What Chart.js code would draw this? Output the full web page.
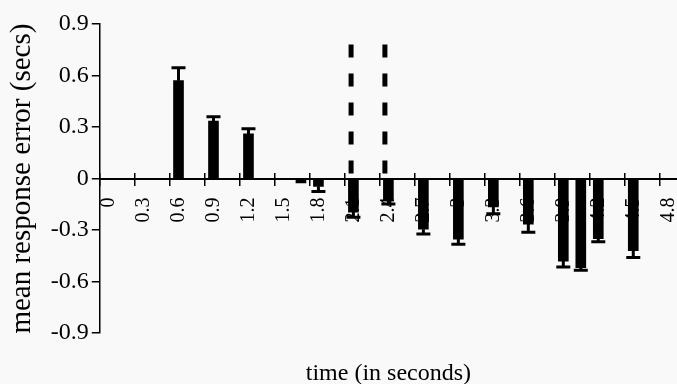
<!DOCTYPE html>
<html>
<head>
<meta charset="utf-8">
<script src="https://cdn.jsdelivr.net/npm/chart.js@4/dist/chart.umd.min.js"></script>
<style>
  html, body { margin: 0; padding: 0; background: #f9f9f9; overflow: hidden; }
  #graph-container { width: 677px; height: 384px; position: relative; }
</style>
</head>
<body>
<div id="graph-container"><canvas id="chart"></canvas></div>
<script>
// time bins (secs), every other one is labelled on the axis
const times = ['0', '0.15', '0.3', '0.45', '0.6', '0.75', '0.9', '1.05', '1.2', '1.35',
    '1.5', '1.65', '1.8', '1.95', '2.1', '2.25', '2.4', '2.55', '2.7', '2.85',
    '3', '3.15', '3.3', '3.45', '3.6', '3.75', '3.9', '4.05', '4.2', '4.35',
    '4.5', '4.65', '4.8'];
const binWidth = 0.15;

// mean response error per bin (secs), null = no bar
const meanError = [null, null, null, null, 0.57, null, 0.335, null, 0.26, null,
    null, -0.025, -0.045, null, -0.195, null, -0.13, null, -0.295, null,
    -0.352, null, -0.165, null, -0.265, null, -0.48, -0.518, -0.35, null,
    -0.42, null, null];

// size of the (one sided) error bar
const errorSize = [null, null, null, null, 0.075, null, 0.025, null, 0.03, null,
    null, null, 0.03, null, 0.03, null, 0.018, null, 0.028, null,
    0.03, null, 0.04, null, 0.048, null, 0.035, 0.015, 0.018, null,
    0.04, null, null];

// boundary markers (secs) and how high the dashed line goes
const boundaries = [2.08, 2.37];
const boundaryTop = 0.78;

const yTicks = [-0.9, -0.6, -0.3, 0, 0.3, 0.6, 0.9];

const serif = '"Liberation Serif", "Times New Roman", serif';

const errorBars = {
    id: 'errorBars',
    afterDatasetsDraw(chart) {
        const { ctx } = chart;
        const y = chart.scales.y;
        const meta = chart.getDatasetMeta(0);
        ctx.save();
        ctx.strokeStyle = '#000';
        ctx.lineWidth = 3;
        meta.data.forEach((bar, i) => {
            const v = meanError[i];
            const e = errorSize[i];
            if (v == null || !e) return;
            const end = y.getPixelForValue(v + Math.sign(v) * e);
            ctx.beginPath();
            ctx.moveTo(bar.x, bar.y);
            ctx.lineTo(bar.x, end);
            ctx.moveTo(bar.x - 7, end);
            ctx.lineTo(bar.x + 7, end);
            ctx.stroke();
        });
        ctx.restore();
    }
};

const boundaryLines = {
    id: 'boundaryLines',
    beforeDatasetsDraw(chart) {
        const { ctx, scales: { x, y } } = chart;
        ctx.save();
        ctx.strokeStyle = '#000';
        ctx.lineWidth = 5;
        ctx.setLineDash([13, 16]);
        boundaries.forEach(t => {
            const px = x.getPixelForValue(t / binWidth);
            ctx.beginPath();
            ctx.moveTo(px, y.getPixelForValue(boundaryTop));
            ctx.lineTo(px, y.getPixelForValue(0));
            ctx.stroke();
        });
        ctx.restore();
    }
};

// rotated labels ask for room on the right, the original runs to the edge
const noSidePadding = (scale) => {
    scale.paddingLeft = 0;
    scale.paddingRight = 0;
};

Chart.defaults.color = '#000';
Chart.defaults.font.family = serif;

new Chart(document.getElementById('chart'), {
    type: 'bar',
    data: {
        labels: times,
        datasets: [{
            data: meanError,
            backgroundColor: '#000',
            borderWidth: 0,
            barThickness: 10,
        }]
    },
    options: {
        responsive: true,
        maintainAspectRatio: false,
        animation: false,
        layout: { padding: { top: 24, left: 0, right: 0, bottom: 0 } },
        plugins: {
            legend: { display: false },
            tooltip: { enabled: false },
            title: {
                display: true,
                text: 'time (in seconds)',
                position: 'bottom',
                fullSize: false,
                color: '#000',
                font: { family: serif, size: 24, weight: 'normal' },
                padding: { top: 26, bottom: -4 },
            }
        },
        scales: {
            x: {
                type: 'category',
                position: { y: 0 },
                offset: true,
                afterFit: noSidePadding,
                grid: {
                    offset: true,
                    drawOnChartArea: false,
                    tickLength: 6,
                    lineWidth: 1.5,
                    color: (c) => (c.index % 2 === 0 ? '#000' : 'rgba(0,0,0,0)'),
                },
                border: { color: '#000', width: 2 },
                ticks: {
                    autoSkip: false,
                    minRotation: 90,
                    maxRotation: 90,
                    padding: 13,
                    font: { family: serif, size: 20 },
                    callback: (v, i) => (i % 2 === 0 ? times[i] : ''),
                }
            },
            x2: {
                type: 'category',
                position: { y: 0 },
                offset: true,
                afterFit: noSidePadding,
                grid: {
                    offset: true,
                    drawOnChartArea: false,
                    tickLength: -6,
                    lineWidth: 1.5,
                    color: (c) => (c.index % 2 === 0 ? '#000' : 'rgba(0,0,0,0)'),
                },
                border: { display: false },
                ticks: { display: false, autoSkip: false },
            },
            y: {
                min: -0.9,
                max: 0.9,
                afterBuildTicks: (axis) => { axis.ticks = yTicks.map(v => ({ value: v })); },
                grid: { drawOnChartArea: false, tickLength: 8, color: '#000', lineWidth: 1.5 },
                border: { color: '#000', width: 1.5 },
                ticks: {
                    padding: 3,
                    font: { family: serif, size: 24 },
                    callback: (v) => String(+(+v).toFixed(1)),
                },
                title: {
                    display: true,
                    text: 'mean response error (secs)',
                    font: { family: serif, size: 29 },
                    padding: { top: 5, bottom: 8 },
                }
            }
        }
    },
    plugins: [boundaryLines, errorBars]
});
</script>
</body>
</html>
